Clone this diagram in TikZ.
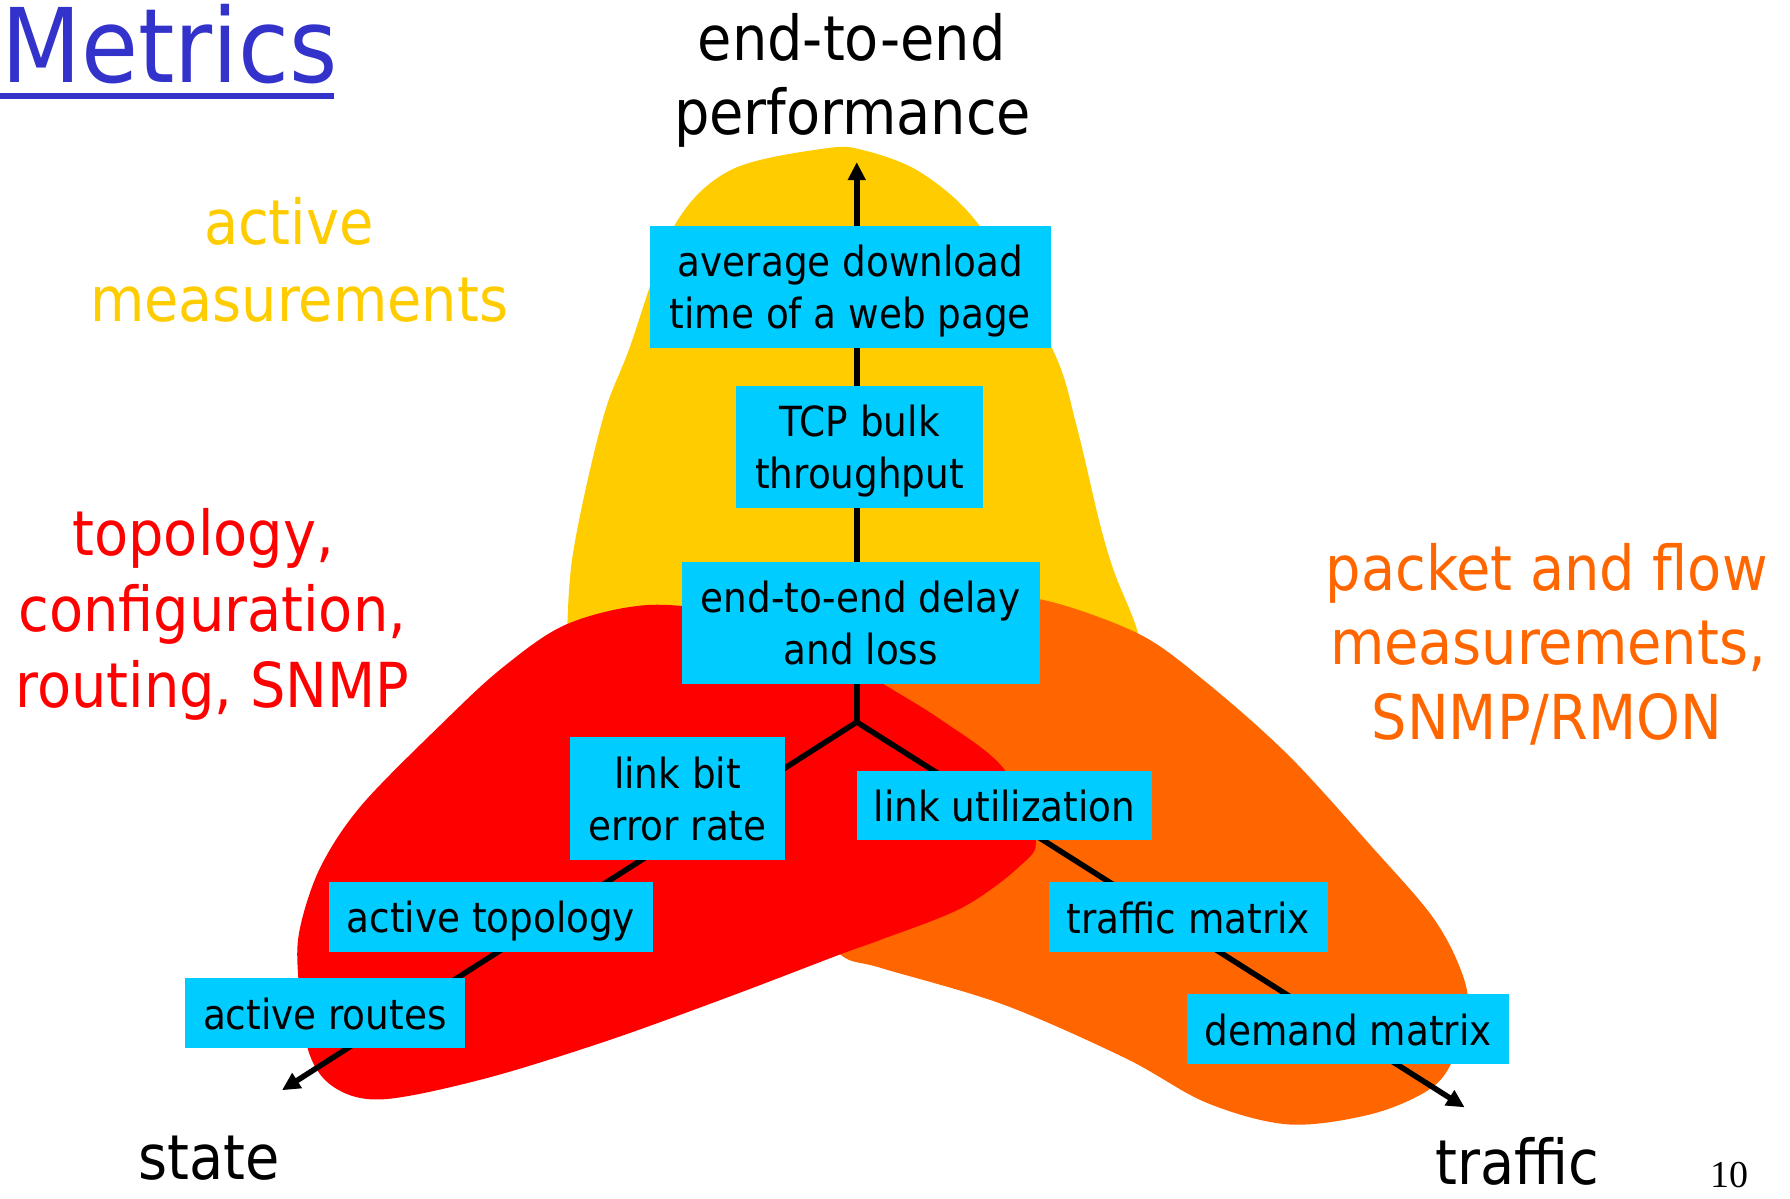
\documentclass[tikz,border=0pt]{standalone}
\usepackage{fontspec}
\setmainfont{DejaVu Sans Condensed}
\newfontfamily\pagefont{Liberation Serif}
\usetikzlibrary{arrows.meta}
\definecolor{yel}{HTML}{FFCC00}
\definecolor{redb}{HTML}{FF0000}
\definecolor{orb}{HTML}{FF6600}
\definecolor{cyanbox}{HTML}{00CCFF}
\definecolor{titleblue}{HTML}{3333CC}
\newcommand\bxfont{\fontsize{41.5}{51.6}\selectfont}
\newcommand\lblfont{\fontsize{62}{72}\selectfont}
\newcommand\ttlfont{\fontsize{103}{120}\selectfont}
\newcommand\bs{\rule[-8pt]{0pt}{48pt}}
\begin{document}
\begin{tikzpicture}[x=1.1416pt,y=-1.1416pt,
  box/.style={fill=cyanbox, inner sep=0pt, align=center, font=\bxfont},
  tall/.style={minimum height=122.2pt},
  short/.style={minimum height=69.6pt},
  axis/.style={line width=5.5pt, black},
  tip/.style={-{Triangle[length=18pt,width=17pt]}},
  lbl/.style={anchor=base, inner sep=0pt, font=\lblfont}]
\useasboundingbox (0,0) rectangle (1568,1050);
% blobs
\fill[yel] plot[smooth cycle, tension=0.55] coordinates {
 (497,600) (497,547) (501,491) (514,424) (531,357) (551,306) (590,199) (640,149)
 (723,130) (758,132) (808,152) (859,199) (922,306) (943,373) (963,457) (976,501)
 (997,555) (1005,610) (750,640)};
\fill[orb] plot[smooth cycle, tension=0.55] coordinates {
 (911,525) (997,555) (1057,598) (1129,662) (1201,741) (1254,802) (1279,848)
 (1286,884) (1272,930) (1251,955) (1201,976) (1129,985) (1057,966) (986,927)
 (879,880) (772,848) (736,836) (700,790) (720,680) (790,570) (860,530)};
\fill[redb] plot[smooth cycle, tension=0.55] coordinates {
 (567,530) (640,538) (720,565) (772,598) (825,631) (879,673) (907,734) (893,759)
 (843,795) (772,823) (736,836) (639,873) (531,912) (424,945) (335,963) (292,952)
 (270,920) (261,852) (263,812) (281,759) (317,705) (388,633) (440,585) (496,547)};
% axes
\coordinate (J) at (750.5,632.5);
\coordinate (tipU) at (750.5,142);
\coordinate (tipL) at (247,955);
\coordinate (tipR) at (1283,970);
\draw[axis, tip] (J) -- (tipU);
\draw[axis, {Triangle[length=18pt,width=17pt]}-{Triangle[length=18pt,width=17pt]}, line join=miter] (tipL) -- (J) -- (tipR);
% boxes
\node[box, tall, minimum width=401.8pt] (avg) at (745,251.5) {\bs average download\\\bs time of a web page};
\node[box, tall, minimum width=246.6pt] (tcp) at (753,391.5) {\bs TCP bulk\\\bs throughput};
\node[box, tall, minimum width=358.5pt] (delay) at (754,545.5) {\bs end-to-end delay\\\bs and loss};
\node[box, tall, minimum width=215.8pt] (ber) at (593.5,699.5) {\bs link bit\\\bs error rate};
\node[box, short, minimum width=294.5pt] (util) at (880,705.5) {\bs link utilization};
\node[box, short, minimum width=324.2pt] (atop) at (430,803.5) {\bs active topology};
\node[box, short, minimum width=278.6pt] (tmat) at (1041,803.5) {\bs traffic matrix};
\node[box, short, minimum width=279.7pt] (aroutes) at (284.5,887.5) {\bs active routes};
\node[box, short, minimum width=321.9pt] (dmat) at (1181,901.5) {\bs demand matrix};
% labels
\node[anchor=base west, inner sep=0pt, font=\ttlfont, text=titleblue] (title) at (1,72.7) {Metrics};
\fill[titleblue] (0,81.5) rectangle (292.6,86.7);
\node[lbl] (e2e1) at (746,53) {end-to-end};
\node[lbl] (e2e2) at (747,118) {performance};
\node[lbl, text=yel] (act1) at (253,214) {active};
\node[lbl, text=yel] (act2) at (262,282) {measurements};
\node[lbl, text=redb] (top1) at (178,487) {topology,};
\node[lbl, text=redb] (top2) at (186,553) {configuration,};
\node[lbl, text=redb] (top3) at (186,620) {routing, SNMP};
\node[lbl, text=orb] (pk1) at (1355,517) {packet and flow};
\node[lbl, text=orb] (pk2) at (1356,582) {measurements,};
\node[lbl, text=orb] (pk3) at (1355,648) {SNMP/RMON};
\node[lbl] (state) at (183,1033) {state};
\node[lbl] (traffic) at (1329,1038) {traffic};
\node[anchor=base, inner sep=0pt, font=\pagefont\fontsize{38}{40}\selectfont] (pg) at (1515,1040) {10};
\end{tikzpicture}
\end{document}
